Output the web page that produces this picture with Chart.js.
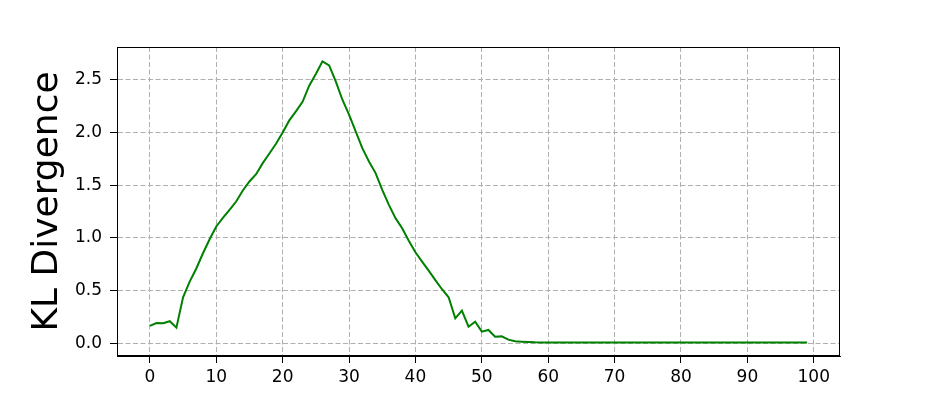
<!DOCTYPE html>
<html>
<head>
<meta charset="utf-8">
<script src="https://cdn.jsdelivr.net/npm/chart.js@4"></script>
<style>
  html, body { margin: 0; padding: 0; background: #fff; }
  #wrap { width: 934px; height: 401px; }
</style>
</head>
<body>
<div id="wrap"><canvas id="myChart" width="934" height="401"></canvas></div>
<script>
// datos (epoca 0..99)
const klValues = [
  0.165, 0.193, 0.190, 0.210, 0.149, 0.437, 0.585, 0.710, 0.854, 0.987,
  1.108, 1.190, 1.266, 1.345, 1.449, 1.535, 1.604, 1.709, 1.800, 1.892,
  2.000, 2.114, 2.200, 2.290, 2.443, 2.554, 2.674, 2.636, 2.484, 2.310,
  2.168, 2.010, 1.851, 1.725, 1.614, 1.456, 1.313, 1.187, 1.092, 0.972,
  0.864, 0.775, 0.690, 0.600, 0.513, 0.437, 0.237, 0.310, 0.158, 0.206,
  0.111, 0.127, 0.063, 0.066, 0.035, 0.019, 0.016, 0.013, 0.010, 0.009,
  0.009, 0.009, 0.008, 0.008, 0.008, 0.008, 0.008, 0.008, 0.007, 0.007,
  0.007, 0.007, 0.007, 0.007, 0.007, 0.007, 0.007, 0.007, 0.007, 0.007,
  0.007, 0.007, 0.007, 0.007, 0.007, 0.007, 0.007, 0.007, 0.007, 0.007,
  0.007, 0.007, 0.007, 0.007, 0.007, 0.007, 0.007, 0.007, 0.007, 0.007
];
const epochs = klValues.map((v, i) => i);
const xTicks = [0, 10, 20, 30, 40, 50, 60, 70, 80, 90, 100];
const yTicks = [0.0, 0.5, 1.0, 1.5, 2.0, 2.5];
const yTitle = "KL Divergence";

const points = epochs.map((e, i) => ({ x: e, y: klValues[i] }));

// marco completo como en matplotlib
const frameBox = {
  id: "frameBox",
  afterDraw(chart) {
    const a = chart.chartArea;
    const c = chart.ctx;
    c.save();
    c.strokeStyle = "#000";
    c.lineWidth = 1;
    c.strokeRect(a.left + 0.5, a.top + 0.5, a.right - a.left - 1, a.bottom - a.top - 1);
    c.restore();
  }
};

Chart.defaults.font.family = "'DejaVu Sans', sans-serif";
Chart.defaults.color = "#000";

const gridOpts = { color: "#b0b0b0", lineWidth: 1, tickColor: "#000", tickLength: 7, tickWidth: 1 };

const ctx = document.getElementById("myChart").getContext("2d");
const myChart = new Chart(ctx, {
  type: "line",
  data: {
    datasets: [{
      data: points,
      borderColor: "#008000",
      borderWidth: 2,
      pointRadius: 0,
      tension: 0,
      fill: false
    }]
  },
  options: {
    responsive: false,
    animation: false,
    layout: { padding: { top: 47, right: 94, bottom: 0, left: 0 } },
    plugins: { legend: { display: false }, tooltip: { enabled: false } },
    scales: {
      x: {
        type: "linear",
        min: -4.95,
        max: 103.95,
        afterBuildTicks: (scale) => { scale.ticks = xTicks.map(v => ({ value: v })); },
        afterFit: (scale) => { scale.height = 45; },
        ticks: { font: { size: 17 }, padding: 4, maxRotation: 0, callback: (v) => String(v) },
        grid: gridOpts,
        border: { display: true, color: "#000", width: 1, dash: [5, 2.5] }
      },
      y: {
        min: -0.12,
        max: 2.81,
        afterBuildTicks: (scale) => { scale.ticks = yTicks.map(v => ({ value: v })); },
        afterFit: (scale) => { scale.width = 117; },
        ticks: { font: { size: 17 }, padding: 8, callback: (v) => Number(v).toFixed(1) },
        grid: gridOpts,
        border: { display: true, color: "#000", width: 1, dash: [5, 2.5] },
        title: { display: true, text: yTitle, font: { size: 36 }, padding: { top: 26, bottom: 0 } }
      }
    }
  },
  plugins: [frameBox]
});
</script>
</body>
</html>
